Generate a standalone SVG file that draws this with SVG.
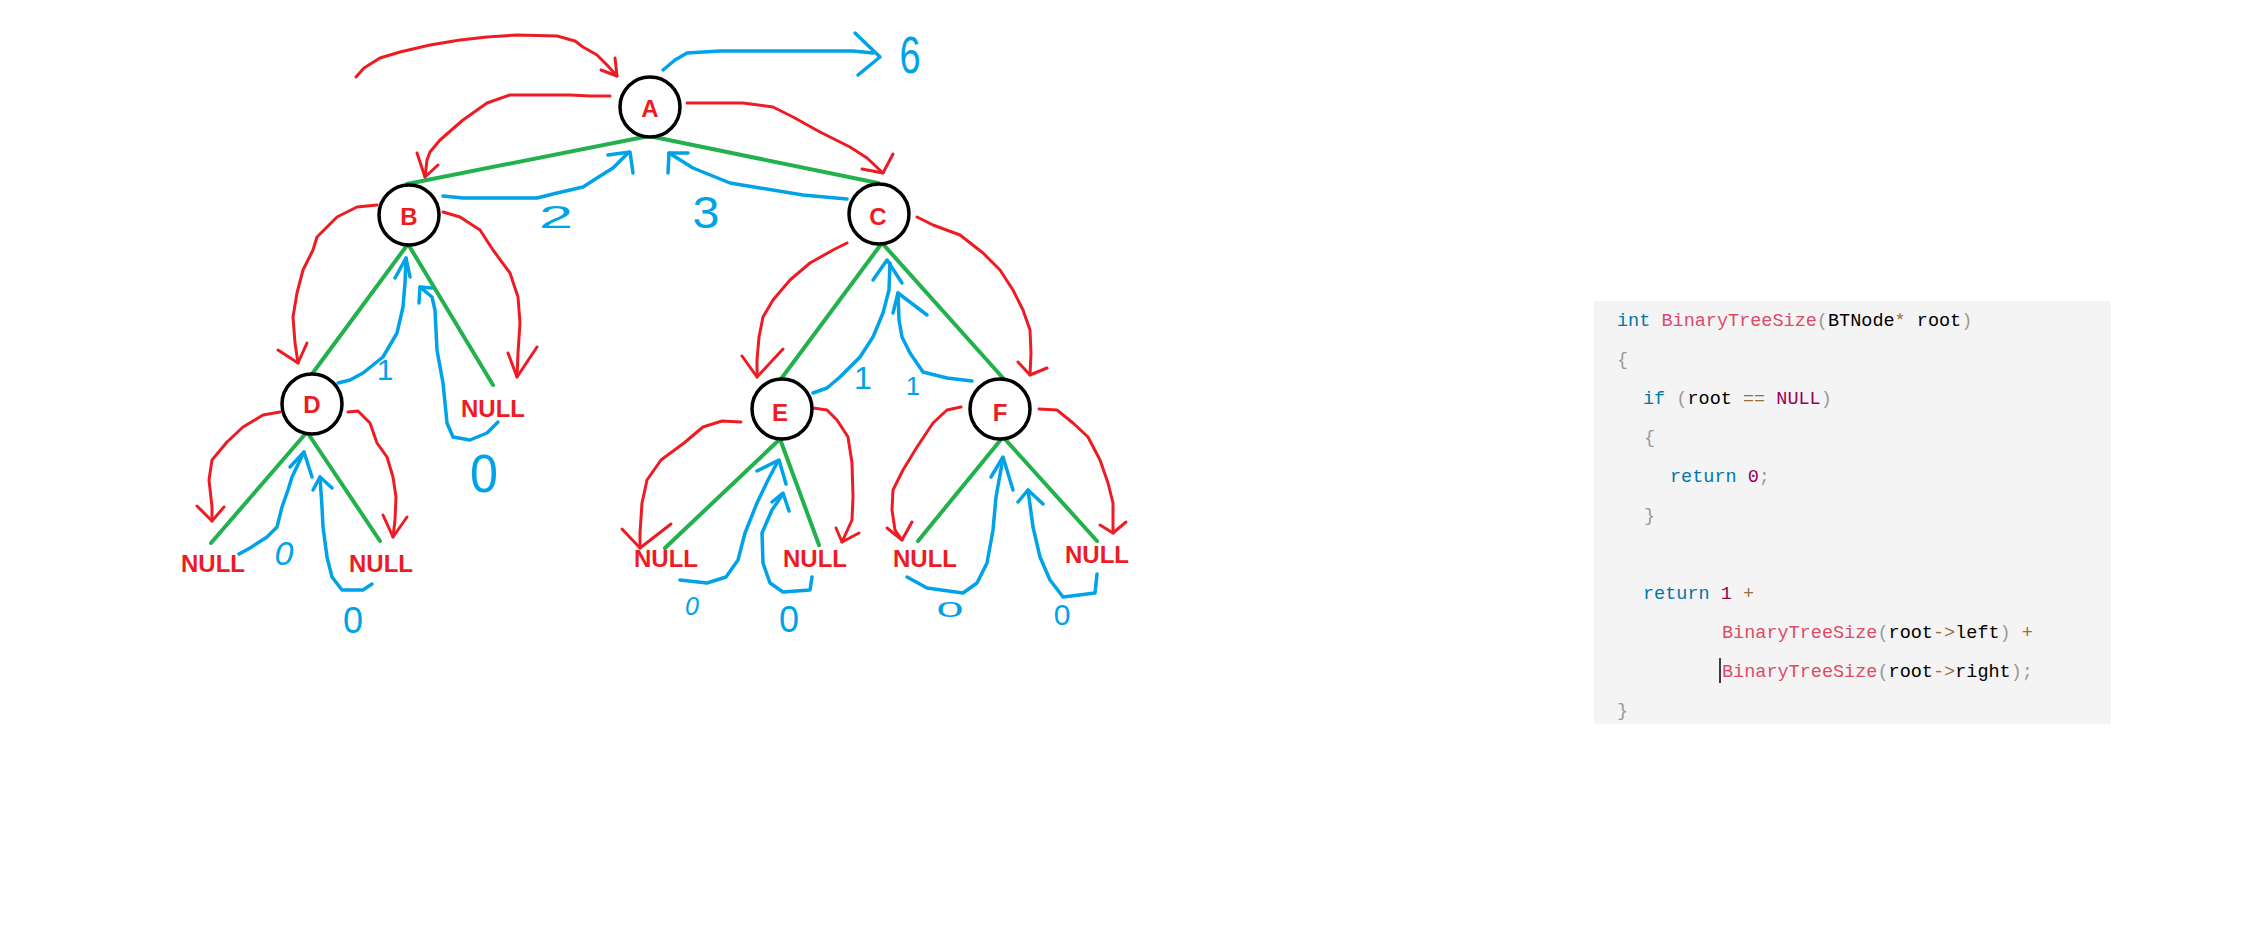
<svg xmlns="http://www.w3.org/2000/svg" width="2266" height="926" viewBox="0 0 2266 926">
<style>
.edge{stroke:#22b14c;stroke-width:4;fill:none;stroke-linecap:round}
.red{stroke:#ed1c24;stroke-width:3;fill:none;stroke-linejoin:round;stroke-linecap:round}
.blue{stroke:#00a2e8;stroke-width:3.5;fill:none;stroke-linejoin:round;stroke-linecap:round}
.node circle{fill:#fff;stroke:#000;stroke-width:3.5}
.lbl{font-family:"Liberation Sans",Arial,sans-serif;font-weight:bold;font-size:24px;fill:#ed1c24;text-anchor:middle}
.hw{font-family:"Liberation Sans",Arial,sans-serif;fill:#00a2e8;text-anchor:middle}
.code{font-family:"Liberation Mono","DejaVu Sans Mono",monospace;font-size:18.5px;fill:#000;white-space:pre}
.kw{fill:#0077aa}.fn{fill:#dd4a68}.p{fill:#999999}.op{fill:#9a6e3a}.cn{fill:#990055}
</style>
<rect width="2266" height="926" fill="#fff"/>
<g id="connectors">
  <g id="tree-edges">
    <line class="edge" x1="649" y1="136" x2="407" y2="184"/>
    <line class="edge" x1="649" y1="136" x2="878" y2="183"/>
    <line class="edge" x1="408" y1="244" x2="312" y2="374"/>
    <line class="edge" x1="408" y1="244" x2="493" y2="385"/>
    <line class="edge" x1="307" y1="432" x2="211" y2="543"/>
    <line class="edge" x1="307" y1="432" x2="380" y2="541"/>
    <line class="edge" x1="882" y1="243" x2="781" y2="379"/>
    <line class="edge" x1="882" y1="243" x2="1003" y2="378"/>
    <line class="edge" x1="780" y1="439" x2="665" y2="548"/>
    <line class="edge" x1="780" y1="439" x2="819" y2="545"/>
    <line class="edge" x1="1003" y1="437" x2="918" y2="541"/>
    <line class="edge" x1="1003" y1="437" x2="1097" y2="541"/>
  </g>
  <g id="calls">
    <polyline class="red" points="356,77 364,68 380,58 400,52 430,45 460,40 487,37 517,35 557,36 575,41 583,47 597,55 607,65 617,76"/>
    <polyline class="red" points="615,58 617,76 601,70"/>
    <polyline class="red" points="610,96 590,96 570,95 540,95 510,95 487,103 463,120 440,140 430,152 427,160 425,177"/>
    <polyline class="red" points="417,153 425,177 438,165"/>
    <polyline class="red" points="687,103 715,103 743,103 773,107 793,117 820,132 850,147 867,158 883,173"/>
    <polyline class="red" points="862,169 883,173 893,154"/>
    <polyline class="red" points="377,205 357,207 337,217 317,237 313,250 303,270 297,293 293,317 295,343 298,363"/>
    <polyline class="red" points="278,350 298,363 307,343"/>
    <polyline class="red" points="443,212 460,217 480,230 493,250 510,273 518,297 520,323 518,353 517,377"/>
    <polyline class="red" points="508,353 517,377 537,347"/>
    <polyline class="red" points="280,412 263,415 243,427 227,442 212,460 209,480 212,507 212,521"/>
    <polyline class="red" points="197,506 212,521 224,507"/>
    <polyline class="red" points="348,412 358,411 370,423 377,443 387,457 393,477 396,497 395,520 393,537"/>
    <polyline class="red" points="383,515 393,537 407,517"/>
    <polyline class="red" points="847,243 833,250 810,263 790,280 773,300 763,317 759,337 757,360 757,377"/>
    <polyline class="red" points="742,356 757,377 783,349"/>
    <polyline class="red" points="917,217 933,225 960,235 983,253 1000,270 1013,290 1023,310 1030,330 1031,353 1030,375"/>
    <polyline class="red" points="1018,362 1030,375 1047,368"/>
    <polyline class="red" points="741,422 722,421 703,427 684,443 661,460 647,480 642,503 640,533 640,548"/>
    <polyline class="red" points="622,529 640,548 671,524"/>
    <polyline class="red" points="813,408 827,410 837,420 848,437 852,463 853,497 852,520 842,542"/>
    <polyline class="red" points="836,528 842,542 859,533"/>
    <polyline class="red" points="961,407 947,410 933,423 917,447 903,470 893,490 892,510 895,530 902,540"/>
    <polyline class="red" points="887,528 902,540 912,522"/>
    <polyline class="red" points="1039,409 1057,410 1073,423 1088,437 1100,460 1108,483 1113,503 1113,533"/>
    <polyline class="red" points="1100,525 1113,533 1126,522"/>
  </g>
  <g id="returns">
    <polyline class="blue" points="663,70 675,60 687,53 720,51 853,51 873,53"/>
    <polyline class="blue" points="855,33 880,57 858,75"/>
    <polyline class="blue" points="443,196 463,198 537,198 557,193 583,187 597,178 613,168 628,153"/>
    <polyline class="blue" points="608,155 630,152 633,173"/>
    <polyline class="blue" points="847,199 803,195 760,188 730,183 693,168 669,153"/>
    <polyline class="blue" points="668,173 669,153 688,153"/>
    <polyline class="blue" points="338,383 350,380 363,373 383,357 397,333 403,307 405,283 406,258"/>
    <polyline class="blue" points="395,278 406,258 410,277"/>
    <polyline class="blue" points="498,422 487,433 470,440 453,437 447,423 443,383 437,350 435,310 432,297 420,287"/>
    <polyline class="blue" points="419,303 420,287 432,288"/>
    <polyline class="blue" points="239,554 250,548 267,537 277,527 282,507 288,490 292,477 304,452"/>
    <polyline class="blue" points="290,467 304,452 312,477"/>
    <polyline class="blue" points="372,584 363,590 342,590 332,577 327,557 323,527 322,507 320,477"/>
    <polyline class="blue" points="313,490 320,477 332,488"/>
    <polyline class="blue" points="813,393 827,388 840,377 860,357 873,337 883,313 889,290 890,263"/>
    <polyline class="blue" points="873,280 887,260 902,283"/>
    <polyline class="blue" points="972,381 947,378 923,372 910,353 902,337 899,320 898,293"/>
    <polyline class="blue" points="893,313 898,293 927,315"/>
    <polyline class="blue" points="680,580 707,583 726,577 738,560 745,533 757,503 768,480 778,461"/>
    <polyline class="blue" points="757,471 779,460 786,484"/>
    <polyline class="blue" points="812,577 810,590 783,592 770,583 763,563 762,533 772,510 783,494"/>
    <polyline class="blue" points="772,502 783,493 789,511"/>
    <polyline class="blue" points="907,577 927,588 963,593 977,583 987,563 993,530 996,497 1003,458"/>
    <polyline class="blue" points="991,477 1003,457 1013,490"/>
    <polyline class="blue" points="1097,574 1095,593 1063,597 1050,580 1040,557 1033,527 1028,490"/>
    <polyline class="blue" points="1018,502 1028,490 1043,504"/>
  </g>
  <g id="return-values">
    <text class="hw" transform="translate(910,73) scale(1,1.35)" font-size="38">6</text>
    <text class="hw" x="556" y="228" font-size="32" textLength="34" lengthAdjust="spacingAndGlyphs">2</text>
    <text class="hw" x="706" y="228" font-size="44" textLength="27" lengthAdjust="spacingAndGlyphs">3</text>
    <text class="hw" x="385" y="380" font-size="30">1</text>
    <text class="hw" x="863" y="389" font-size="32">1</text>
    <text class="hw" x="913" y="395" font-size="26">1</text>
    <text class="hw" transform="translate(484,492) scale(1,1.4)" font-size="38" textLength="28" lengthAdjust="spacingAndGlyphs">0</text>
    <text class="hw" x="284" y="565" font-size="34" font-style="italic">0</text>
    <text class="hw" x="353" y="633" font-size="36">0</text>
    <text class="hw" x="692" y="615" font-size="25" font-style="italic">0</text>
    <text class="hw" x="789" y="632" font-size="36">0</text>
    <text class="hw" x="950" y="617" font-size="22" textLength="27" lengthAdjust="spacingAndGlyphs">0</text>
    <text class="hw" x="1062" y="625" font-size="30">0</text>
  </g>
</g>
<g id="node-A" class="node"><circle cx="650" cy="107" r="30"/><text class="lbl" x="650" y="117">A</text></g>
<g id="node-B" class="node"><circle cx="409" cy="215" r="30"/><text class="lbl" x="409" y="225">B</text></g>
<g id="node-C" class="node"><circle cx="879" cy="214" r="30"/><text class="lbl" x="878" y="225">C</text></g>
<g id="node-D" class="node"><circle cx="312" cy="404" r="30"/><text class="lbl" x="312" y="413">D</text></g>
<g id="node-E" class="node"><circle cx="782" cy="409" r="30"/><text class="lbl" x="780" y="421">E</text></g>
<g id="node-F" class="node"><circle cx="1000" cy="409" r="30"/><text class="lbl" x="1000" y="421">F</text></g>
<g id="null-B-right"><text class="lbl" x="493" y="417">NULL</text></g>
<g id="null-D-left"><text class="lbl" x="213" y="572">NULL</text></g>
<g id="null-D-right"><text class="lbl" x="381" y="572">NULL</text></g>
<g id="null-E-left"><text class="lbl" x="666" y="567">NULL</text></g>
<g id="null-E-right"><text class="lbl" x="815" y="567">NULL</text></g>
<g id="null-F-left"><text class="lbl" x="925" y="567">NULL</text></g>
<g id="null-F-right"><text class="lbl" x="1097" y="563">NULL</text></g>
<g id="code-block">
  <rect x="1594" y="301" width="517" height="423" fill="#f4f4f4"/>
  <text class="code" x="1617" y="326"><tspan class="kw">int</tspan> <tspan class="fn">BinaryTreeSize</tspan><tspan class="p">(</tspan>BTNode<tspan class="op">*</tspan> root<tspan class="p">)</tspan></text>
  <text class="code p" x="1617" y="365">{</text>
  <text class="code" x="1643" y="404"><tspan class="kw">if</tspan> <tspan class="p">(</tspan>root <tspan class="op">==</tspan> <tspan class="cn">NULL</tspan><tspan class="p">)</tspan></text>
  <text class="code p" x="1644" y="443">{</text>
  <text class="code" x="1670" y="482"><tspan class="kw">return</tspan> <tspan class="cn">0</tspan><tspan class="p">;</tspan></text>
  <text class="code p" x="1644" y="521">}</text>
  <text class="code" x="1643" y="599"><tspan class="kw">return</tspan> <tspan class="cn">1</tspan> <tspan class="op">+</tspan></text>
  <text class="code" x="1722" y="638"><tspan class="fn">BinaryTreeSize</tspan><tspan class="p">(</tspan>root<tspan class="op">-&gt;</tspan>left<tspan class="p">)</tspan> <tspan class="op">+</tspan></text>
  <text class="code" x="1722" y="677"><tspan class="fn">BinaryTreeSize</tspan><tspan class="p">(</tspan>root<tspan class="op">-&gt;</tspan>right<tspan class="p">)</tspan><tspan class="p">;</tspan></text>
  <line x1="1720" y1="658" x2="1720" y2="683" stroke="#000" stroke-width="1.5"/>
  <text class="code p" x="1617" y="716">}</text>
</g>
</svg>
